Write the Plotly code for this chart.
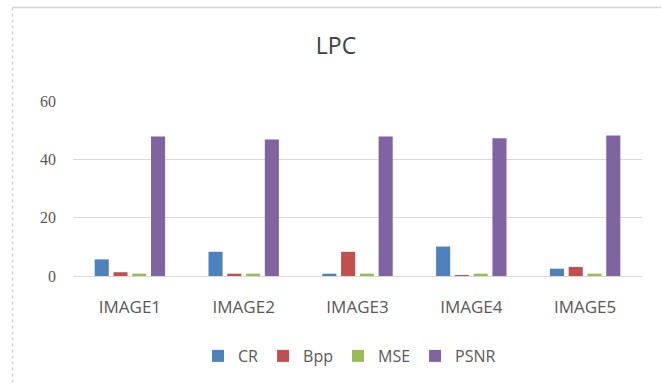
import plotly.graph_objects as go

categories = ["IMAGE1", "IMAGE2", "IMAGE3", "IMAGE4", "IMAGE5"]
cr = [5.7, 8.3, 0.8, 10.1, 2.5]
bpp = [1.3, 0.8, 8.3, 0.3, 3.1]
mse = [0.8, 0.8, 0.8, 0.8, 0.8]
psnr = [47.8, 46.8, 47.8, 47.2, 48.2]

series = [("CR", cr, "#4F81BD"), ("Bpp", bpp, "#C0504D"),
          ("MSE", mse, "#9BBB59"), ("PSNR", psnr, "#8064A2")]

fig = go.Figure()
for name, vals, col in series:
    fig.add_trace(go.Bar(x=categories, y=vals, name=name, marker_color=col,
                         marker_line_width=0))

L, R, T, B = 73, 642, 101, 276
W, H = R - L, B - T

def px(x):
    return (x - L) / W

def py(y):
    return (B - y) / H

fig.update_layout(
    width=662, height=385,
    margin=dict(l=L, r=662 - R, t=T, b=385 - B, autoexpand=False),
    paper_bgcolor="white", plot_bgcolor="white",
    title=dict(text="LPC", x=336 / 662, xanchor="center", y=0.88, yanchor="middle",
               font=dict(family="Open Sans", size=23, color="#404040")),
    barmode="group", bargap=0.34, bargroupgap=0.25,
    font=dict(family="Open Sans", color="#595959", size=14),
    legend=dict(orientation="h", x=px(198), xanchor="left", y=py(356),
                yanchor="middle", font=dict(size=16, color="#595959"),
                itemwidth=30, traceorder="normal"),
    xaxis=dict(showgrid=False, showline=True, linecolor="#D9D9D9", ticks="",
               ticklabelstandoff=16,
               tickfont=dict(size=17, color="#595959")),
    yaxis=dict(range=[0, 60], dtick=20, showgrid=True, gridcolor="#D9D9D9",
               zeroline=False, showline=False, ticks="",
               ticklabelstandoff=16,
               tickfont=dict(family="Liberation Serif", size=16, color="#595959")),
    shapes=[
        dict(type="line", xref="paper", yref="paper", layer="below",
             x0=px(12.5), x1=px(661), y0=py(7.5), y1=py(7.5),
             line=dict(color="#D4D4D4", width=1.5)),
        dict(type="line", xref="paper", yref="paper", layer="below",
             x0=px(12.5), x1=px(12.5), y0=py(7.5), y1=py(384),
             line=dict(color="#D4D4D4", width=1.5, dash="dot")),
    ],
)

fig.write_html("out.html", config={"displayModeBar": False},
               post_script="document.body.style.margin='0';")
